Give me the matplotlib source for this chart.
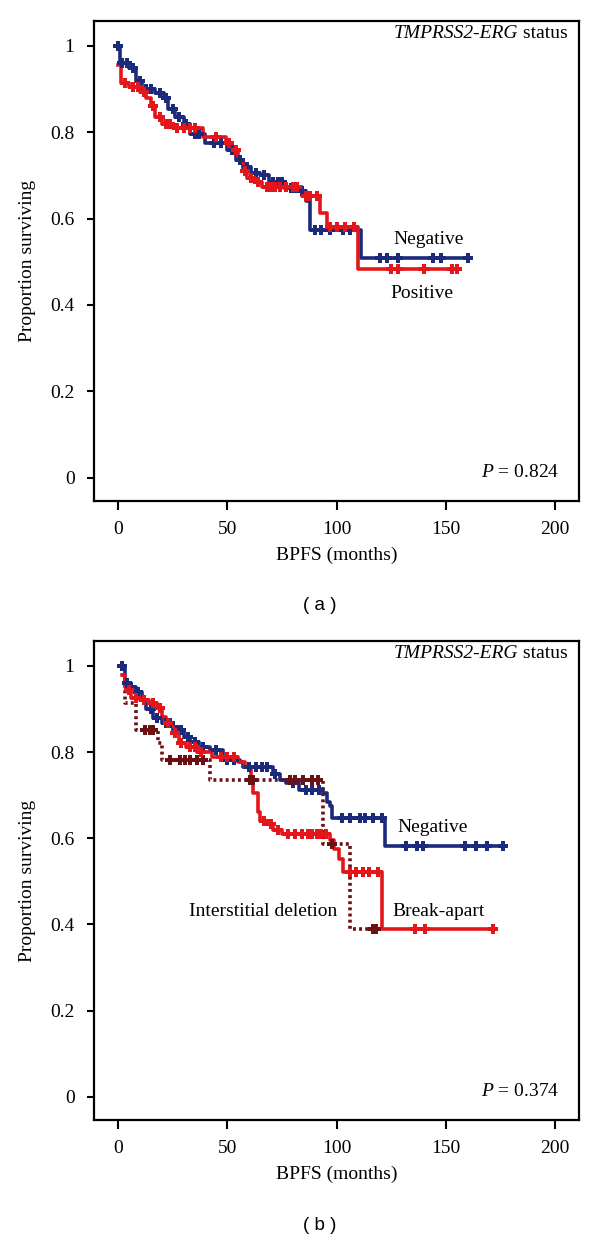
import numpy as np
import matplotlib

matplotlib.use("Agg")
import matplotlib.pyplot as plt

plt.rcParams["font.family"] = ["Liberation Serif", "DejaVu Serif"]
plt.rcParams["mathtext.fontset"] = "custom"
plt.rcParams["mathtext.it"] = "Liberation Serif:italic"
plt.rcParams["mathtext.rm"] = "Liberation Serif"

BLUE = "#1b2a7a"
RED = "#e3161c"
DARK = "#6b1013"

# ---- panel (a): TMPRSS2-ERG negative vs positive ----
a_neg_t = [0, 1, 5, 8, 11, 17, 21, 23, 26, 30, 33, 40, 50, 54, 57, 61, 65, 69, 76, 82, 86, 88, 111, 160]
a_neg_s = [1.0, 0.96, 0.95, 0.92, 0.90, 0.89, 0.88, 0.855, 0.835, 0.82, 0.795, 0.775, 0.76, 0.735,
           0.72, 0.705, 0.70, 0.685, 0.67, 0.665, 0.64, 0.573, 0.51, 0.51]
a_neg_cens = [0, 2, 4, 7, 10, 13, 15, 19, 22, 25, 28, 31, 35, 37, 44, 47, 52, 56, 59, 63, 67, 71, 73,
              75, 79, 81, 84, 90, 93, 97, 103, 106, 120, 123, 128, 144, 148, 160]

a_pos_t = [0, 1.5, 5, 10, 13, 15, 17, 20, 25, 39, 49.5, 52, 55, 57, 59, 63, 66, 84, 92.5, 95.5, 110, 155]
a_pos_s = [0.955, 0.915, 0.905, 0.893, 0.88, 0.86, 0.835, 0.82, 0.81, 0.79, 0.775, 0.76, 0.735,
           0.71, 0.695, 0.684, 0.673, 0.652, 0.613, 0.58, 0.483, 0.483]
a_pos_cens = [3, 7, 9, 12, 16, 19, 22, 24, 27, 30, 33, 35, 45, 51, 54, 58, 61, 64, 68, 70, 72, 74,
              77, 80, 82, 86, 88, 91, 97, 100, 104, 108, 125, 128, 140, 153, 155]

# ---- panel (b): negative, break-apart, interstitial deletion ----
b_neg_t = [2, 3, 5, 8, 11, 13, 16, 20, 25, 30, 33, 37, 42, 48, 56, 57, 71, 74, 77, 83, 94, 95.6,
           97, 98, 122, 176]
b_neg_s = [1.0, 0.96, 0.95, 0.94, 0.92, 0.90, 0.88, 0.868, 0.852, 0.836, 0.824, 0.812, 0.805,
           0.782, 0.776, 0.766, 0.75, 0.735, 0.728, 0.713, 0.706, 0.683, 0.674, 0.648, 0.581, 0.581]
b_neg_cens = [2, 4, 6, 9, 12, 15, 18, 22, 24, 27, 29, 32, 35, 39, 45, 50, 53, 60, 63, 66, 68, 72, 80,
              86, 89, 92, 102.5, 106, 110.8, 113, 116.7, 121, 132, 137, 139.6, 159, 164, 169, 176]

b_brk_t = [2, 3, 4, 6, 10, 14, 18, 20, 22, 25, 28, 31, 36, 43, 55, 58, 61, 62, 64, 65, 68, 71, 75,
           97, 99, 101, 103, 121, 171.5]
b_brk_s = [0.98, 0.95, 0.944, 0.926, 0.921, 0.914, 0.903, 0.882, 0.868, 0.845, 0.822, 0.8125, 0.80,
           0.789, 0.778, 0.766, 0.743, 0.706, 0.66, 0.639, 0.632, 0.62, 0.609, 0.597, 0.574, 0.551,
           0.521, 0.389, 0.389]
b_brk_cens = [5, 8, 12, 16, 19, 23, 26, 29, 33, 35, 38, 47, 50, 53, 67, 70, 73, 78, 81, 84, 87, 89,
              91, 93, 95, 106, 109, 112, 115, 119, 136, 140.5, 171.5]

b_int_t = [2, 3, 8, 18.5, 20, 42, 94, 106, 118]
b_int_s = [0.98, 0.914, 0.852, 0.822, 0.782, 0.736, 0.586, 0.389, 0.389]
b_int_cens = [12.4, 14.6, 16, 23.8, 28.4, 30.7, 33, 36, 39, 60.4, 61.8, 78.7, 81, 84.7, 89, 91.5,
              98, 116.5, 118]

x_ticks = [0, 50, 100, 150, 200]
y_ticks = [0, 0.2, 0.4, 0.6, 0.8, 1.0]
y_labels = ["0", "0.2", "0.4", "0.6", "0.8", "1"]


def km(ax, t, s, cens, color, ls="-", lw=2.6):
    t = np.asarray(t, dtype=float)
    s = np.asarray(s, dtype=float)
    ax.step(t, s, where="post", color=color, lw=lw, linestyle=ls, zorder=2)
    c = np.asarray(cens, dtype=float)
    idx = np.searchsorted(t, c, side="right") - 1
    ax.plot(c, s[idx], linestyle="none", marker="P", markersize=7.5,
            color=color, markeredgewidth=0, zorder=3)


def style(ax, p_text):
    ax.set_xlim(-11, 211)
    ax.set_ylim(-0.054, 1.058)
    ax.set_xticks(x_ticks)
    ax.set_yticks(y_ticks)
    ax.set_yticklabels(y_labels)
    ax.tick_params(axis="x", direction="out", length=6.5, width=1.5, pad=8, labelsize=14)
    ax.tick_params(axis="y", direction="out", length=5, width=1.5, pad=9, labelsize=14)
    for sp in ax.spines.values():
        sp.set_linewidth(1.6)
    ax.set_xlabel("BPFS (months)", fontsize=14, labelpad=6)
    ax.set_ylabel("Proportion surviving", fontsize=14, labelpad=10)
    st = ax.text(206, 1.03, " status", ha="right", va="center", fontsize=14)
    ax.annotate("TMPRSS2-ERG", xy=(0, 0.5), xycoords=st, ha="right", va="center",
                fontsize=14, style="italic")
    ax.text(202, 0.012, r"$\mathit{P}$ = " + p_text, ha="right", va="center", fontsize=14)


fig = plt.figure(figsize=(6, 12.4), dpi=100)

ax1 = fig.add_axes([0.1567, 0.5960, 0.8083, 0.3871])
km(ax1, a_neg_t, a_neg_s, a_neg_cens, BLUE)
km(ax1, a_pos_t, a_pos_s, a_pos_cens, RED)
style(ax1, "0.824")
ax1.text(142, 0.552, "Negative", ha="center", va="center", fontsize=14)
ax1.text(139, 0.427, "Positive", ha="center", va="center", fontsize=14)

ax2 = fig.add_axes([0.1567, 0.0968, 0.8083, 0.3863])
km(ax2, b_neg_t, b_neg_s, b_neg_cens, BLUE)
km(ax2, b_int_t, b_int_s, b_int_cens, DARK, ls=(0, (0.8, 0.9)), lw=2.6)
km(ax2, b_brk_t, b_brk_s, b_brk_cens, RED)
style(ax2, "0.374")
ax2.text(144, 0.625, "Negative", ha="center", va="center", fontsize=14)
ax2.text(146.5, 0.43, "Break-apart", ha="center", va="center", fontsize=14)
ax2.text(100.5, 0.43, "Interstitial deletion", ha="right", va="center", fontsize=14)

fig.text(0.533, 1 - 605 / 1240, "( a )", ha="center", va="center", fontsize=13.5,
         family=["Liberation Sans", "DejaVu Sans"])
fig.text(0.533, 1 - 1225 / 1240, "( b )", ha="center", va="center", fontsize=13.5,
         family=["Liberation Sans", "DejaVu Sans"])

fig.savefig("out.png", dpi=100)
